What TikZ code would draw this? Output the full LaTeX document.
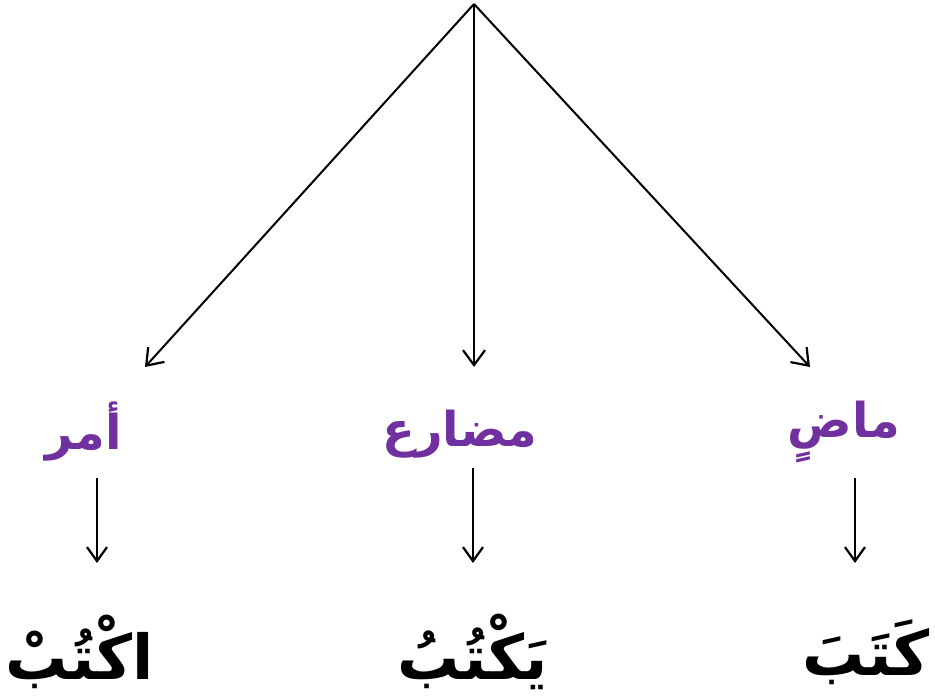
\documentclass[tikz,border=0pt]{standalone}
\usepackage{fontspec}
\usetikzlibrary{arrows.meta}
\TeXXeTstate=1
\newfontfamily\arabicfont[Script=Arabic]{DejaVu Sans}
\definecolor{vpurple}{RGB}{112,48,160}
\tikzset{
  bigarrow/.style={line width=2pt,-{Straight Barb[length=15pt,width=22pt,line width=2.2pt]}},
  smallarrow/.style={line width=2pt,-{Straight Barb[length=14pt,width=20pt,line width=2.2pt]}},
  lbl/.style={inner sep=0pt,text=vpurple,font=\arabicfont\bfseries\fontsize{48}{52}\selectfont},
  word/.style={inner sep=0pt,text=black,font=\arabicfont\bfseries\fontsize{62}{68}\selectfont}
}
\begin{document}
\begin{tikzpicture}[x=1pt,y=-1pt]
\useasboundingbox (0,0) rectangle (935,699);
\fill[white] (0,0) rectangle (935,699);
% apex and arrow tips
\coordinate (top) at (474,4);
\coordinate (tipL) at (145,367);
\coordinate (tipM) at (474,367);
\coordinate (tipR) at (810,367);
% labels
\node[lbl] (amr) at (84,432) {\beginR أمر\endR};
\node[lbl] (mudari) at (460,434) {\beginR مضارع\endR};
\node[lbl] (madi) at (844,432) {\beginR ماضٍ\endR};
% small arrows
\coordinate (sL1) at (97,478);
\coordinate (sL2) at (97,563);
\coordinate (sM1) at (473,468);
\coordinate (sM2) at (473,563);
\coordinate (sR1) at (855,478);
\coordinate (sR2) at (855,563);
% words
\node[word] (uktub) at (80,652) {\beginR اكْتُبْ\endR};
\node[word] (yaktubu) at (473,652) {\beginR يَكْتُبُ\endR};
\node[word] (kataba) at (866,652) {\beginR كَتَبَ\endR};
% connectors
\draw[bigarrow] (top) -- (tipL);
\draw[bigarrow] (top) -- (tipM);
\draw[bigarrow] (top) -- (tipR);
\draw[smallarrow] (sL1) -- (sL2);
\draw[smallarrow] (sM1) -- (sM2);
\draw[smallarrow] (sR1) -- (sR2);
\end{tikzpicture}
\end{document}
